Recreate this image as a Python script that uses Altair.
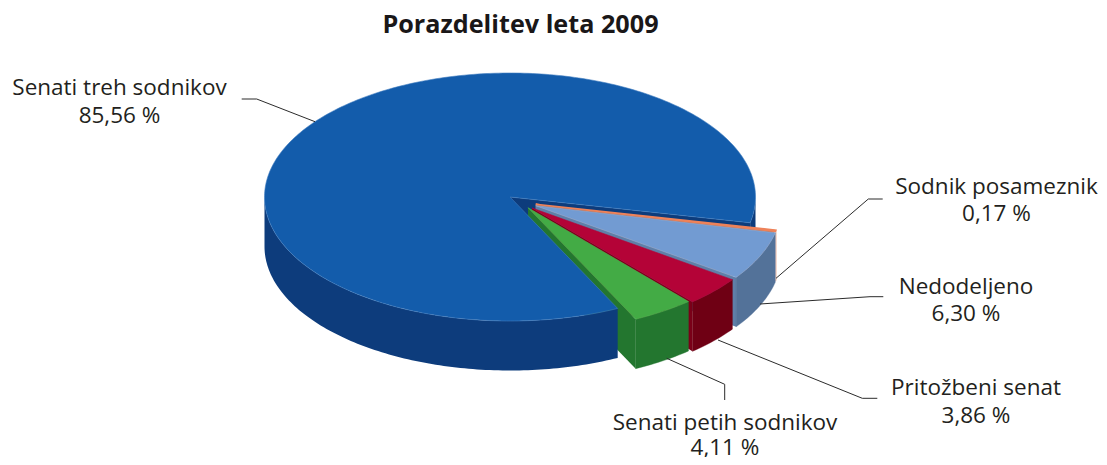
import math
import altair as alt
import pandas as pd

# Values
categories = ["Senati treh sodnikov", "Sodnik posameznik", "Nedodeljeno", "Pritožbeni senat", "Senati petih sodnikov"]
shares = [85.56, 0.17, 6.30, 3.86, 4.11]
share_labels = ["85,56 %", "0,17 %", "6,30 %", "3,86 %", "4,11 %"]

# Styles per category: top, outer wall, side wall
top_colors = ["#135CAB", "#E9794E", "#729BD2", "#B40337", "#43AB45"]
wall_colors = ["#0D3C7C", "#F3D2C4", "#537299", "#6F0014", "#23762F"]
side_colors = ["#0D3C7C", "#B9694C", "#5F7FA8", "#7A0018", "#23762F"]
edge_colors = ["#3F7CC0", "#EE8259", "#8FB0DC", "#B40337", "#4FB552"]
edge_widths = [0.6, 1.6, 0.6, 0.6, 0.6]

# Layout in page pixels
PAGE_LEFT, PAGE_RIGHT = 8, 1099
PLOT_TOP, PLOT_BOTTOM = 44, 457
CX, CY, RX, RY, DEPTH = 510.0, 197.0, 245.5, 124.0, 49.5
START = 12.0
# pull of each exploded slice (dx, dy)
PULL = [(0, 0), (25.7, 7.3), (25.7, 8.7), (22.0, 11.0), (18.0, 10.7)]

label_x = [119.5, 996.5, 966, 976, 725]
label_y = [95, 193.5, 293.5, 395, 430]
value_y = [122.7, 221.2, 321.2, 422.7, 454.5]
leaders = [
    [(241.7, 99), (256.7, 99), (315, 121.7)],
    [(776, 278.3), (868.3, 199), (882.7, 199)],
    [(760, 304), (870, 296.7), (883.3, 296.7)],
    [(718, 340), (862.3, 398.3), (877.3, 398.3)],
    [(666.7, 358.3), (724.7, 384.3), (724.7, 400)],
]

FONT = "Open Sans"
TEXT = "#231F20"

x_scale = alt.Scale(domain=[PAGE_LEFT, PAGE_RIGHT], range=[0, PAGE_RIGHT - PAGE_LEFT], nice=False, zero=False)
y_scale = alt.Scale(domain=[PLOT_TOP, PLOT_BOTTOM], range=[0, PLOT_BOTTOM - PLOT_TOP], nice=False, zero=False)


def rim(t0, t1, pull=(0, 0), dz=0.0):
    n = max(2, int(abs(t1 - t0)) + 2)
    out = []
    for i in range(n):
        t = math.radians(t0 + (t1 - t0) * i / (n - 1))
        out.append((CX + pull[0] + RX * math.cos(t), CY + pull[1] + RY * math.sin(t) + dz))
    return out


def poly(points, fill, stroke=None, width=0.0):
    rows = [{"px": p[0], "py": p[1], "k": i} for i, p in enumerate(points + points[:1])]
    kw = dict(fill=fill, strokeWidth=width, stroke=stroke if stroke else fill)
    return alt.Chart(pd.DataFrame(rows)).mark_line(**kw).encode(
        x=alt.X("px:Q", scale=x_scale, axis=None),
        y=alt.Y("py:Q", scale=y_scale, axis=None),
        order="k:Q",
    )


layers = []

# slice angles
angles = []
a = START
for s in shares[1:]:
    angles.append((a, a + s * 3.6))
    a += s * 3.6
blue_start = a  # end of the gap, blue runs on to START + 360

# blue: part of the wall seen behind the gap
end = rim(START, START)[0]
layers.append(poly([(CX, CY), end, (end[0], end[1] + DEPTH), (CX, CY + DEPTH)], side_colors[0]))
right = rim(0, START)
layers.append(poly(right + [(p[0], p[1] + DEPTH) for p in reversed(right)], wall_colors[0]))

# exploded slices, back to front
for i, (t0, t1) in enumerate(angles, start=1):
    pull = PULL[i]
    apex = (CX + pull[0], CY + pull[1])
    outer_end = rim(t1, t1, pull)[0]
    layers.append(poly([apex, outer_end, (outer_end[0], outer_end[1] + DEPTH), (apex[0], apex[1] + DEPTH)], side_colors[i]))
    top_rim = rim(t0, t1, pull)
    layers.append(poly(top_rim + [(p[0], p[1] + DEPTH) for p in reversed(top_rim)], wall_colors[i],
                       stroke=wall_colors[i], width=2 if i == 1 else 0.4))
    layers.append(poly([apex] + top_rim, top_colors[i], stroke=edge_colors[i], width=edge_widths[i]))

# blue: front wall and top
front = rim(blue_start, 180)
layers.append(poly(front + [(p[0], p[1] + DEPTH) for p in reversed(front)], wall_colors[0]))
layers.append(poly([(CX, CY)] + rim(blue_start, START + 360), top_colors[0], stroke=edge_colors[0], width=0.6))

# leader lines
for i, pts in enumerate(leaders):
    df = pd.DataFrame([{"px": p[0], "py": p[1], "k": j} for j, p in enumerate(pts)])
    layers.append(alt.Chart(df).mark_line(color="#2B2B2B", strokeWidth=1).encode(
        x=alt.X("px:Q", scale=x_scale, axis=None),
        y=alt.Y("py:Q", scale=y_scale, axis=None),
        order="k:Q",
    ))

# labels
rows = []
for c, l, x, y, vy in zip(categories, share_labels, label_x, label_y, value_y):
    rows.append({"px": x, "py": y, "t": c})
    rows.append({"px": x, "py": vy, "t": l})
layers.append(alt.Chart(pd.DataFrame(rows)).mark_text(
    font=FONT, fontSize=22.5, color=TEXT, align="center", baseline="alphabetic"
).encode(
    x=alt.X("px:Q", scale=x_scale, axis=None),
    y=alt.Y("py:Q", scale=y_scale, axis=None),
    text="t:N",
))

chart = alt.layer(*layers).properties(
    width=PAGE_RIGHT - PAGE_LEFT,
    height=PLOT_BOTTOM - PLOT_TOP,
    autosize=alt.AutoSizeParams(type="none"),
    padding={"left": 0, "top": 36, "right": 0, "bottom": 0},
    title=alt.TitleParams("Porazdelitev leta 2009", font=FONT, fontSize=25.2, fontWeight="bold",
                          color="#1A1718", anchor="middle", dx=-33, offset=6),
).configure_view(stroke=None)

chart.save("out.html", embed_options={"renderer": "svg", "actions": False})
